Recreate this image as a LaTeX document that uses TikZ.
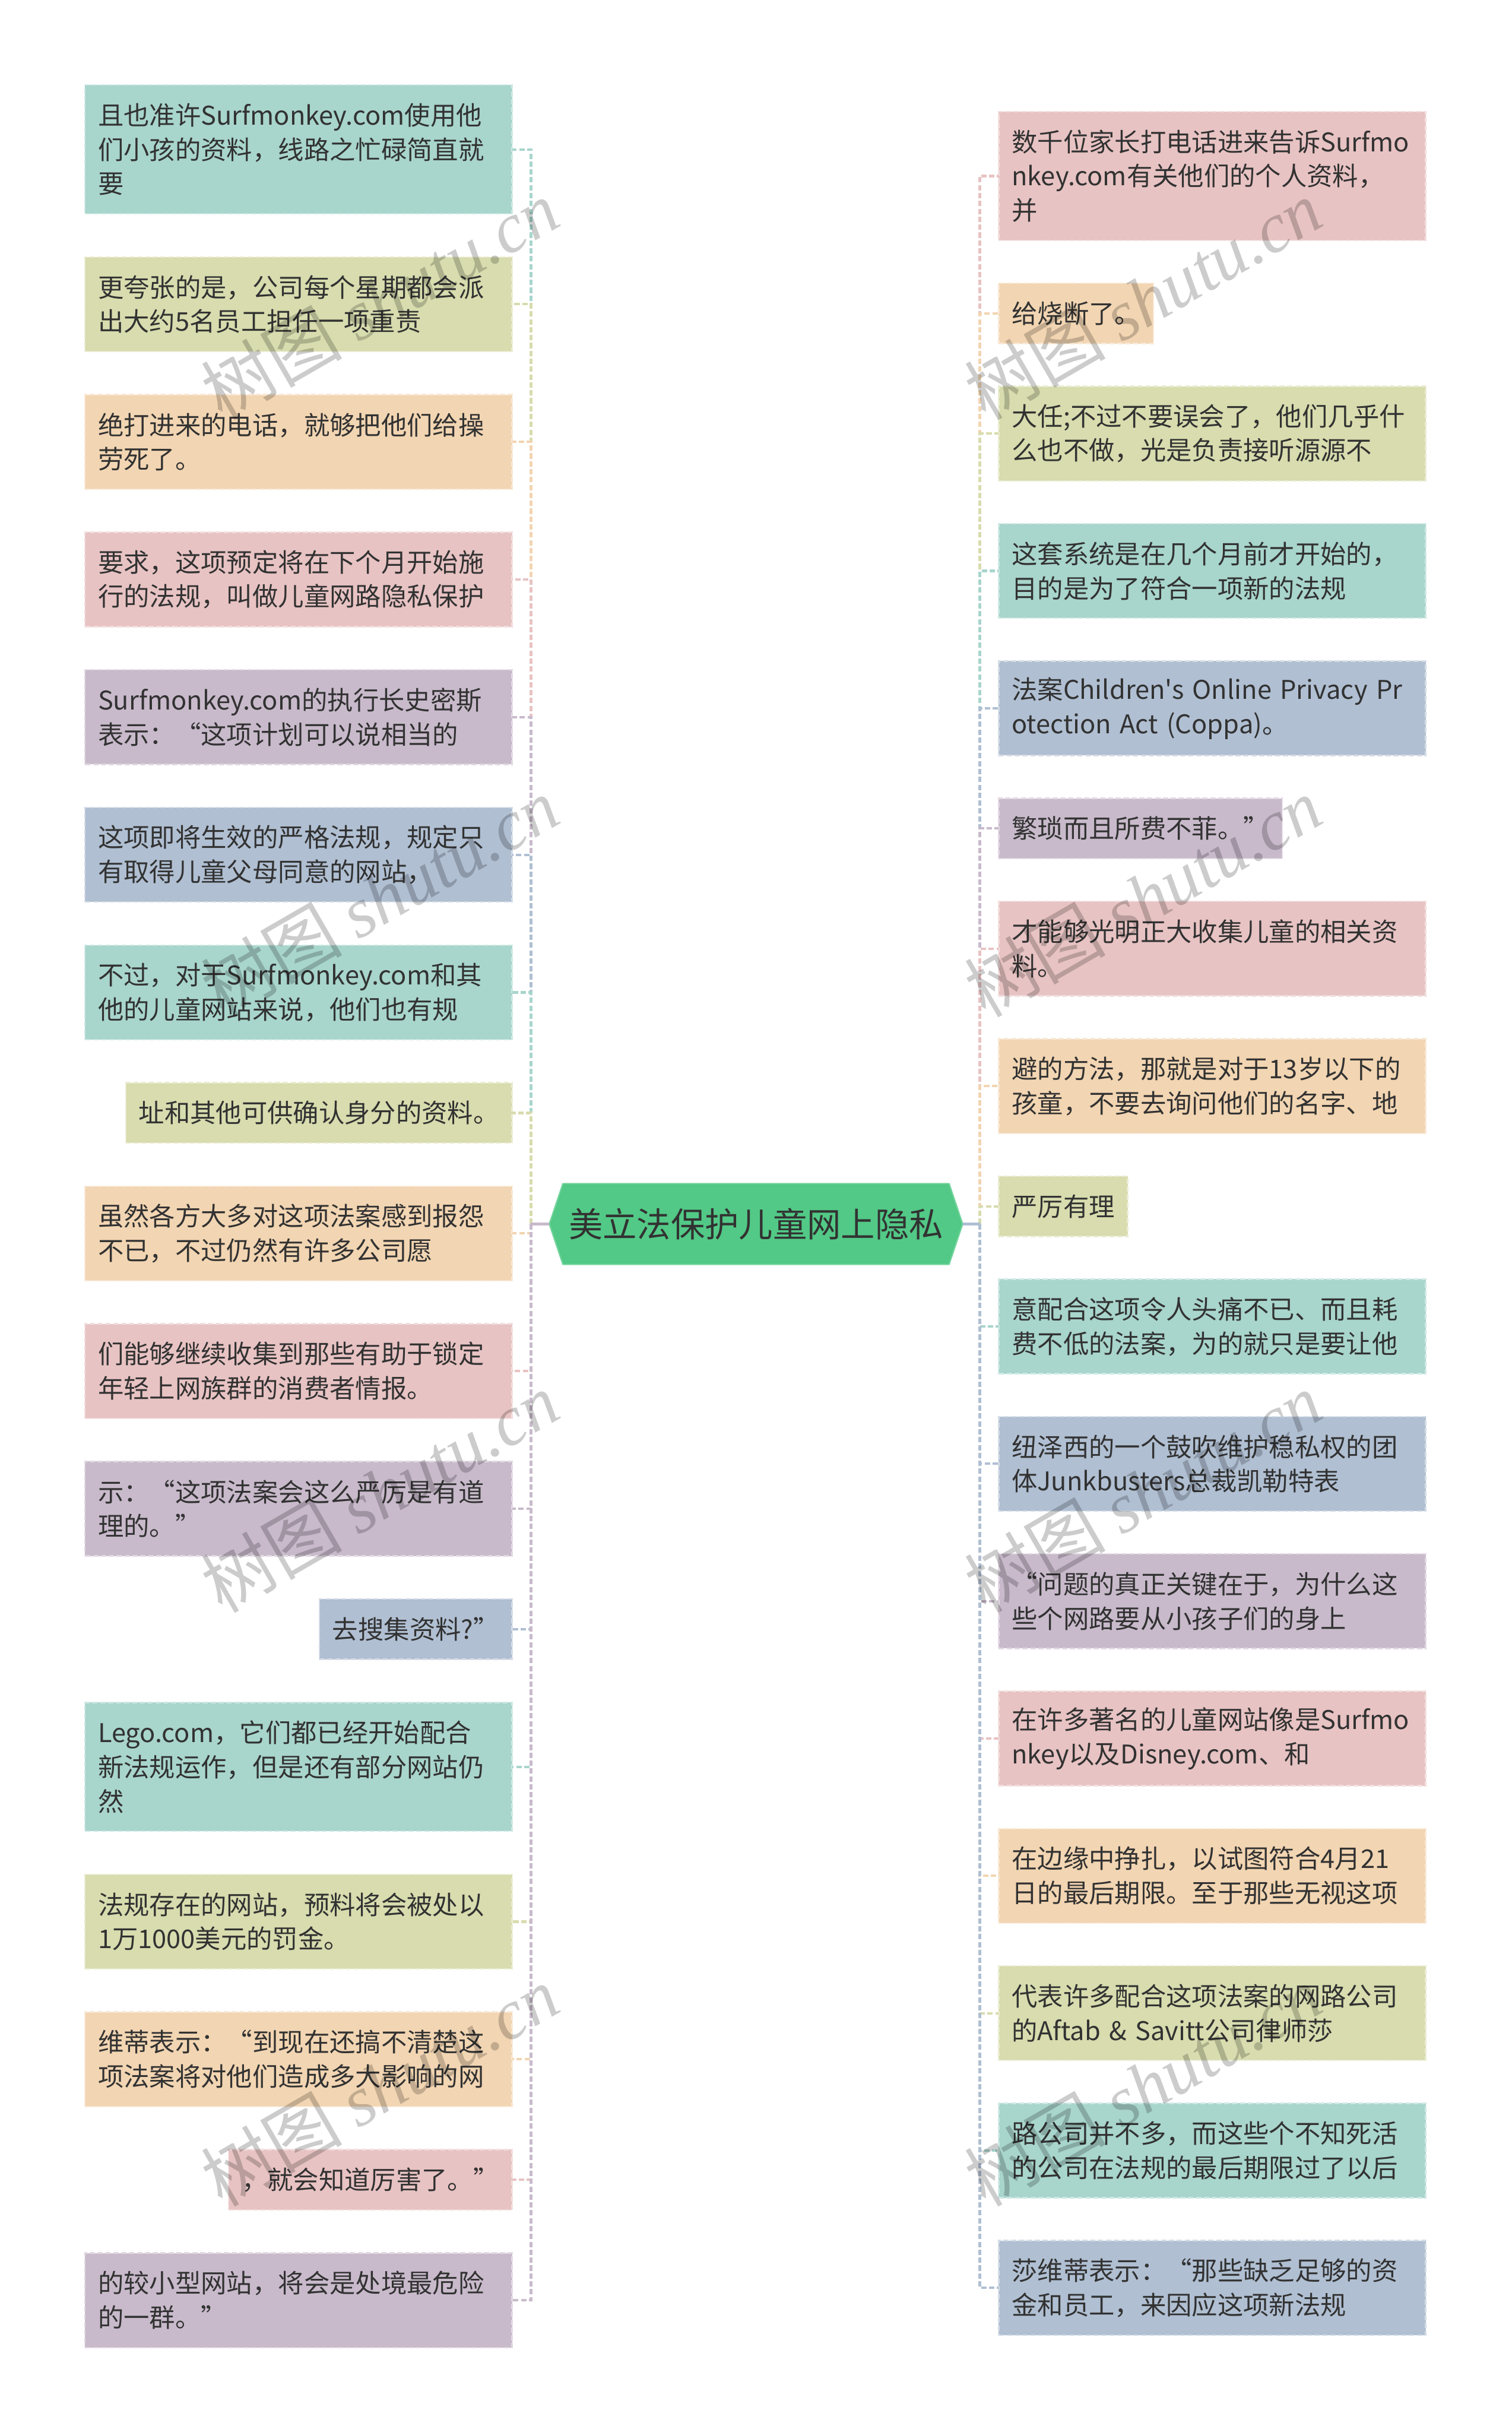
\documentclass[tikz,border=0pt]{standalone}
\usepackage{fontspec}
\setmainfont{Noto Sans CJK SC}[Ligatures=TeXOff]
\newfontfamily\wmserif{Liberation Serif}
\usetikzlibrary{positioning,backgrounds}
\definecolor{ink}{RGB}{50,50,50}
\definecolor{kTeal}{RGB}{168,213,204}
\definecolor{kOlive}{RGB}{216,220,174}
\definecolor{kPeach}{RGB}{242,213,178}
\definecolor{kPink}{RGB}{232,195,195}
\definecolor{kPurple}{RGB}{200,186,203}
\definecolor{kBlue}{RGB}{176,191,210}
\definecolor{kGreen}{RGB}{82,201,134}
\tikzset{
  leaf/.style={fill=#1,draw=#1!55!white,dash pattern=on 2.6pt off 1.2pt,line width=0.7pt,
    text=ink,align=left,inner xsep=2.2mm,inner ysep=1.5mm,outer sep=0pt,minimum height=1.6cm,
    font=\fontsize{12.4pt}{16.5pt}\selectfont},
  wide/.style={text width=6.79cm},
  tall/.style={minimum height=2.18cm},
  short/.style={minimum height=1.02cm},
  link/.style={draw=#1,line width=1.2pt},
  wmark/.style={text=black,text opacity=0.2,rotate=30,font=\fontsize{34pt}{34pt}\selectfont},
}

\begin{document}
\begin{tikzpicture}
    \useasboundingbox (0,0) rectangle (25.6,-41.17);
    \begin{scope}[on background layer]
      \fill[white] (0,0) rectangle (25.6,-41.17);
    \end{scope}

    % central topic
    \node[text=ink,minimum width=6.54cm,minimum height=1.37cm,inner sep=0pt,outer sep=0pt,
      font=\fontsize{16.4pt}{20pt}\selectfont] (root) at (12.8,-20.72) {美立法保护儿童网上隐私};
    \coordinate (ltip) at ([xshift=-2.3mm]root.west);
    \coordinate (rtip) at ([xshift=2.3mm]root.east);
    \coordinate (lt) at ([xshift=-5.4mm]root.west);
    \coordinate (rt) at ([xshift=5.2mm]root.east);
    \begin{scope}[on background layer]
      \fill[kGreen,draw=kGreen!80!white,line width=0.6pt] (ltip) -- (root.north west) -- (root.north east)
        -- (rtip) -- (root.south east) -- (root.south west) -- cycle;
    \end{scope}

    % left column
    \node[leaf=kTeal,wide,tall,anchor=north east] (l1) at (8.67,-1.44) {且也准许Surfmonkey.com使用他\\们小孩的资料，线路之忙碌简直就\\要};
    \node[leaf=kOlive,wide,below=7.3mm of l1.south east,anchor=north east] (l2) {更夸张的是，公司每个星期都会派\\出大约5名员工担任一项重责};
    \node[leaf=kPeach,wide,below=7.3mm of l2.south east,anchor=north east] (l3) {绝打进来的电话，就够把他们给操\\劳死了。};
    \node[leaf=kPink,wide,below=7.3mm of l3.south east,anchor=north east] (l4) {要求，这项预定将在下个月开始施\\行的法规，叫做儿童网路隐私保护};
    \node[leaf=kPurple,wide,below=7.3mm of l4.south east,anchor=north east] (l5) {Surfmonkey.com的执行长史密斯\\表示：“这项计划可以说相当的};
    \node[leaf=kBlue,wide,below=7.3mm of l5.south east,anchor=north east] (l6) {这项即将生效的严格法规，规定只\\有取得儿童父母同意的网站，};
    \node[leaf=kTeal,wide,below=7.3mm of l6.south east,anchor=north east] (l7) {不过，对于Surfmonkey.com和其\\他的儿童网站来说，他们也有规};
    \node[leaf=kOlive,short,below=7.3mm of l7.south east,anchor=north east] (l8) {址和其他可供确认身分的资料。};
    \node[leaf=kPeach,wide,below=7.3mm of l8.south east,anchor=north east] (l9) {虽然各方大多对这项法案感到报怨\\不已，不过仍然有许多公司愿};
    \node[leaf=kPink,wide,below=7.3mm of l9.south east,anchor=north east] (l10) {们能够继续收集到那些有助于锁定\\年轻上网族群的消费者情报。};
    \node[leaf=kPurple,wide,below=7.3mm of l10.south east,anchor=north east] (l11) {示：“这项法案会这么严厉是有道\\理的。”};
    \node[leaf=kBlue,short,below=7.3mm of l11.south east,anchor=north east] (l12) {去搜集资料?”};
    \node[leaf=kTeal,wide,tall,below=7.3mm of l12.south east,anchor=north east] (l13) {Lego.com，它们都已经开始配合\\新法规运作，但是还有部分网站仍\\然};
    \node[leaf=kOlive,wide,below=7.3mm of l13.south east,anchor=north east] (l14) {法规存在的网站，预料将会被处以\\1万1000美元的罚金。};
    \node[leaf=kPeach,wide,below=7.3mm of l14.south east,anchor=north east] (l15) {维蒂表示：“到现在还搞不清楚这\\项法案将对他们造成多大影响的网};
    \node[leaf=kPink,short,below=7.3mm of l15.south east,anchor=north east] (l16) {，就会知道厉害了。”};
    \node[leaf=kPurple,wide,below=7.3mm of l16.south east,anchor=north east] (l17) {的较小型网站，将会是处境最危险\\的一群。”};

    % right column
    \node[leaf=kPink,wide,tall,anchor=north west] (r1) at (16.91,-1.89) {数千位家长打电话进来告诉Surfmo\\nkey.com有关他们的个人资料，\\并};
    \node[leaf=kPeach,short,below=7.25mm of r1.south west,anchor=north west] (r2) {给烧断了。};
    \node[leaf=kOlive,wide,below=7.25mm of r2.south west,anchor=north west] (r3) {大任;不过不要误会了，他们几乎什\\么也不做，光是负责接听源源不};
    \node[leaf=kTeal,wide,below=7.25mm of r3.south west,anchor=north west] (r4) {这套系统是在几个月前才开始的，\\目的是为了符合一项新的法规};
    \node[leaf=kBlue,wide,below=7.25mm of r4.south west,anchor=north west] (r5) {\mbox{法案Children's Online Privacy Pr}\\otection Act (Coppa)。};
    \node[leaf=kPurple,short,below=7.25mm of r5.south west,anchor=north west] (r6) {繁琐而且所费不菲。”};
    \node[leaf=kPink,wide,below=7.25mm of r6.south west,anchor=north west] (r7) {才能够光明正大收集儿童的相关资\\料。};
    \node[leaf=kPeach,wide,below=7.25mm of r7.south west,anchor=north west] (r8) {避的方法，那就是对于13岁以下的\\孩童，不要去询问他们的名字、地};
    \node[leaf=kOlive,short,below=7.25mm of r8.south west,anchor=north west] (r9) {严厉有理};
    \node[leaf=kTeal,wide,below=7.25mm of r9.south west,anchor=north west] (r10) {意配合这项令人头痛不已、而且耗\\费不低的法案，为的就只是要让他};
    \node[leaf=kBlue,wide,below=7.25mm of r10.south west,anchor=north west] (r11) {纽泽西的一个鼓吹维护稳私权的团\\体Junkbusters总裁凯勒特表};
    \node[leaf=kPurple,wide,below=7.25mm of r11.south west,anchor=north west] (r12) {“问题的真正关键在于，为什么这\\些个网路要从小孩子们的身上};
    \node[leaf=kPink,wide,below=7.25mm of r12.south west,anchor=north west] (r13) {在许多著名的儿童网站像是Surfmo\\nkey以及Disney.com、和};
    \node[leaf=kPeach,wide,below=7.25mm of r13.south west,anchor=north west] (r14) {在边缘中挣扎，以试图符合4月21\\日的最后期限。至于那些无视这项};
    \node[leaf=kOlive,wide,below=7.25mm of r14.south west,anchor=north west] (r15) {代表许多配合这项法案的网路公司\\的Aftab \& Savitt公司律师莎};
    \node[leaf=kTeal,wide,below=7.25mm of r15.south west,anchor=north west] (r16) {路公司并不多，而这些个不知死活\\的公司在法规的最后期限过了以后};
    \node[leaf=kBlue,wide,below=7.25mm of r16.south west,anchor=north west] (r17) {莎维蒂表示：“那些缺乏足够的资\\金和员工，来因应这项新法规};

    % connectors
    \foreach \n/\c in {l1/kTeal,l2/kOlive,l3/kPeach,l4/kPink,l5/kPurple,l6/kBlue,l7/kTeal,l8/kOlive,
      l9/kPeach,l10/kPink,l11/kPurple,l12/kBlue,l13/kTeal,l14/kOlive,l15/kPeach,l16/kPink,l17/kPurple}{
      \draw[link=\c] (ltip) -- (lt);
      \draw[link=\c,dash pattern=on 2.6pt off 1.2pt] (lt) |- (\n.east);
    }
    \foreach \n/\c in {r1/kPink,r2/kPeach,r3/kOlive,r4/kTeal,r5/kBlue,r6/kPurple,r7/kPink,r8/kPeach,
      r9/kOlive,r10/kTeal,r11/kBlue,r12/kPurple,r13/kPink,r14/kPeach,r15/kOlive,r16/kTeal,r17/kBlue}{
      \draw[link=\c] (rtip) -- (rt);
      \draw[link=\c,dash pattern=on 2.6pt off 1.2pt] (rt) |- (\n.west);
    }

    % watermarks
    \foreach \y [count=\i] in {-5.07,-15.18,-25.26,-35.31}{
      \node[wmark] (wl\i) at (6.43,\y) {树图 {\wmserif\itshape shutu.cn}};
      \node[wmark] (wr\i) at (19.35,\y) {树图 {\wmserif\itshape shutu.cn}};
    }
\end{tikzpicture}
\end{document}
